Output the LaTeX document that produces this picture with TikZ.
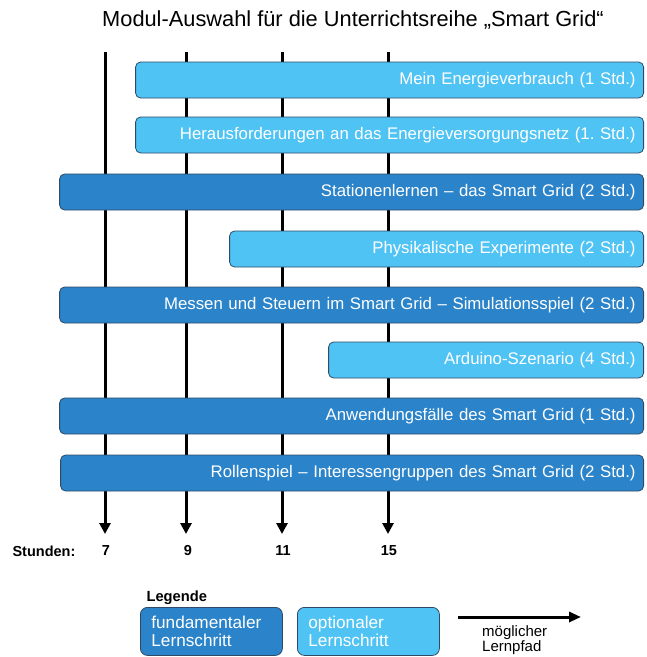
\documentclass[tikz,border=0pt]{standalone}
\usepackage{fontspec}
\setmainfont{Liberation Sans}
\usetikzlibrary{arrows.meta}
\frenchspacing
\definecolor{optblue}{HTML}{50C3F5}
\definecolor{fundblue}{HTML}{2B83C9}
\definecolor{barline}{HTML}{2E4A66}
\tikzset{
  bar/.style={draw=barline, line width=0.8pt, rounded corners=5pt,
    minimum height=36pt, inner xsep=8pt, inner ysep=0pt, align=right,
    text=white, font=\fontsize{16.8}{19}\selectfont, anchor=east},
  optbar/.style={bar, fill=optblue},
  fundbar/.style={bar, fill=fundblue},
  path/.style={line width=3pt, -{Triangle[width=11pt,length=11pt]}},
  hourlabel/.style={font=\bfseries\fontsize{14.5}{16}\selectfont},
  legbox/.style={draw=barline, line width=0.8pt, rounded corners=7pt,
    minimum width=142pt, minimum height=48pt, text width=120pt, inner xsep=11pt,
    align=left, text=white, font=\fontsize{17.2}{18}\selectfont, anchor=north west}
}
\begin{document}
\begin{tikzpicture}[x=1pt,y=-1pt]
\useasboundingbox (0,0) rectangle (647,657);

% title
\node[font=\fontsize{21.8}{24}\selectfont] (title) at (353,20)
  {Modul-Auswahl für die Unterrichtsreihe „Smart Grid“};

% learning paths (drawn behind the modules)
\foreach \n/\x in {7/105, 9/186, 11/282, 15/388}{
  \coordinate (top\n) at (\x,52);
  \coordinate (end\n) at (\x,534);
  \draw[path] (top\n) -- (end\n);
}

% modules
\node[optbar, text width=492pt] (m1) at (644,80) {Mein Energieverbrauch (1 Std.)};
\node[optbar, text width=492pt] (m2) at (644,135) {Herausforderungen an das Energieversorgungsnetz (1. Std.)};
\node[fundbar, text width=568pt] (m3) at (644,192) {Stationenlernen – das Smart Grid (2 Std.)};
\node[optbar, text width=398pt] (m4) at (644,249) {Physikalische Experimente (2 Std.)};
\node[fundbar, text width=568pt] (m5) at (644,305) {Messen und Steuern im Smart Grid – Simulationsspiel (2 Std.)};
\node[optbar, text width=299pt] (m6) at (644,360) {Arduino-Szenario (4 Std.)};
\node[fundbar, text width=568pt] (m7) at (644,416) {Anwendungsfälle des Smart Grid (1 Std.)};
\node[fundbar, text width=567pt] (m8) at (644,473) {Rollenspiel – Interessengruppen des Smart Grid (2 Std.)};

% hours
\node[hourlabel, anchor=west] (stunden) at (9,551) {Stunden:};
\foreach \n/\x in {7/106, 9/188, 11/283, 15/389}{
  \node[hourlabel] (h\n) at (\x,551) {\n};
}

% legend
\node[font=\bfseries\fontsize{14.7}{16}\selectfont, anchor=west] (legende) at (143,598) {Legende};
\node[legbox, fill=fundblue] (lfund) at (140,607) {fundamentaler\\Lernschritt};
\node[legbox, fill=optblue] (lopt) at (297,607) {optionaler\\Lernschritt};
\coordinate (la) at (458,617);
\coordinate (lb) at (581,617);
\draw[line width=3pt, -{Triangle[width=10pt,length=12pt]}] (la) -- (lb);
\node[font=\fontsize{15}{15}\selectfont, align=left, anchor=north west, inner sep=0pt] (lpfad) at (482,625)
  {möglicher\\Lernpfad};
\end{tikzpicture}
\end{document}
